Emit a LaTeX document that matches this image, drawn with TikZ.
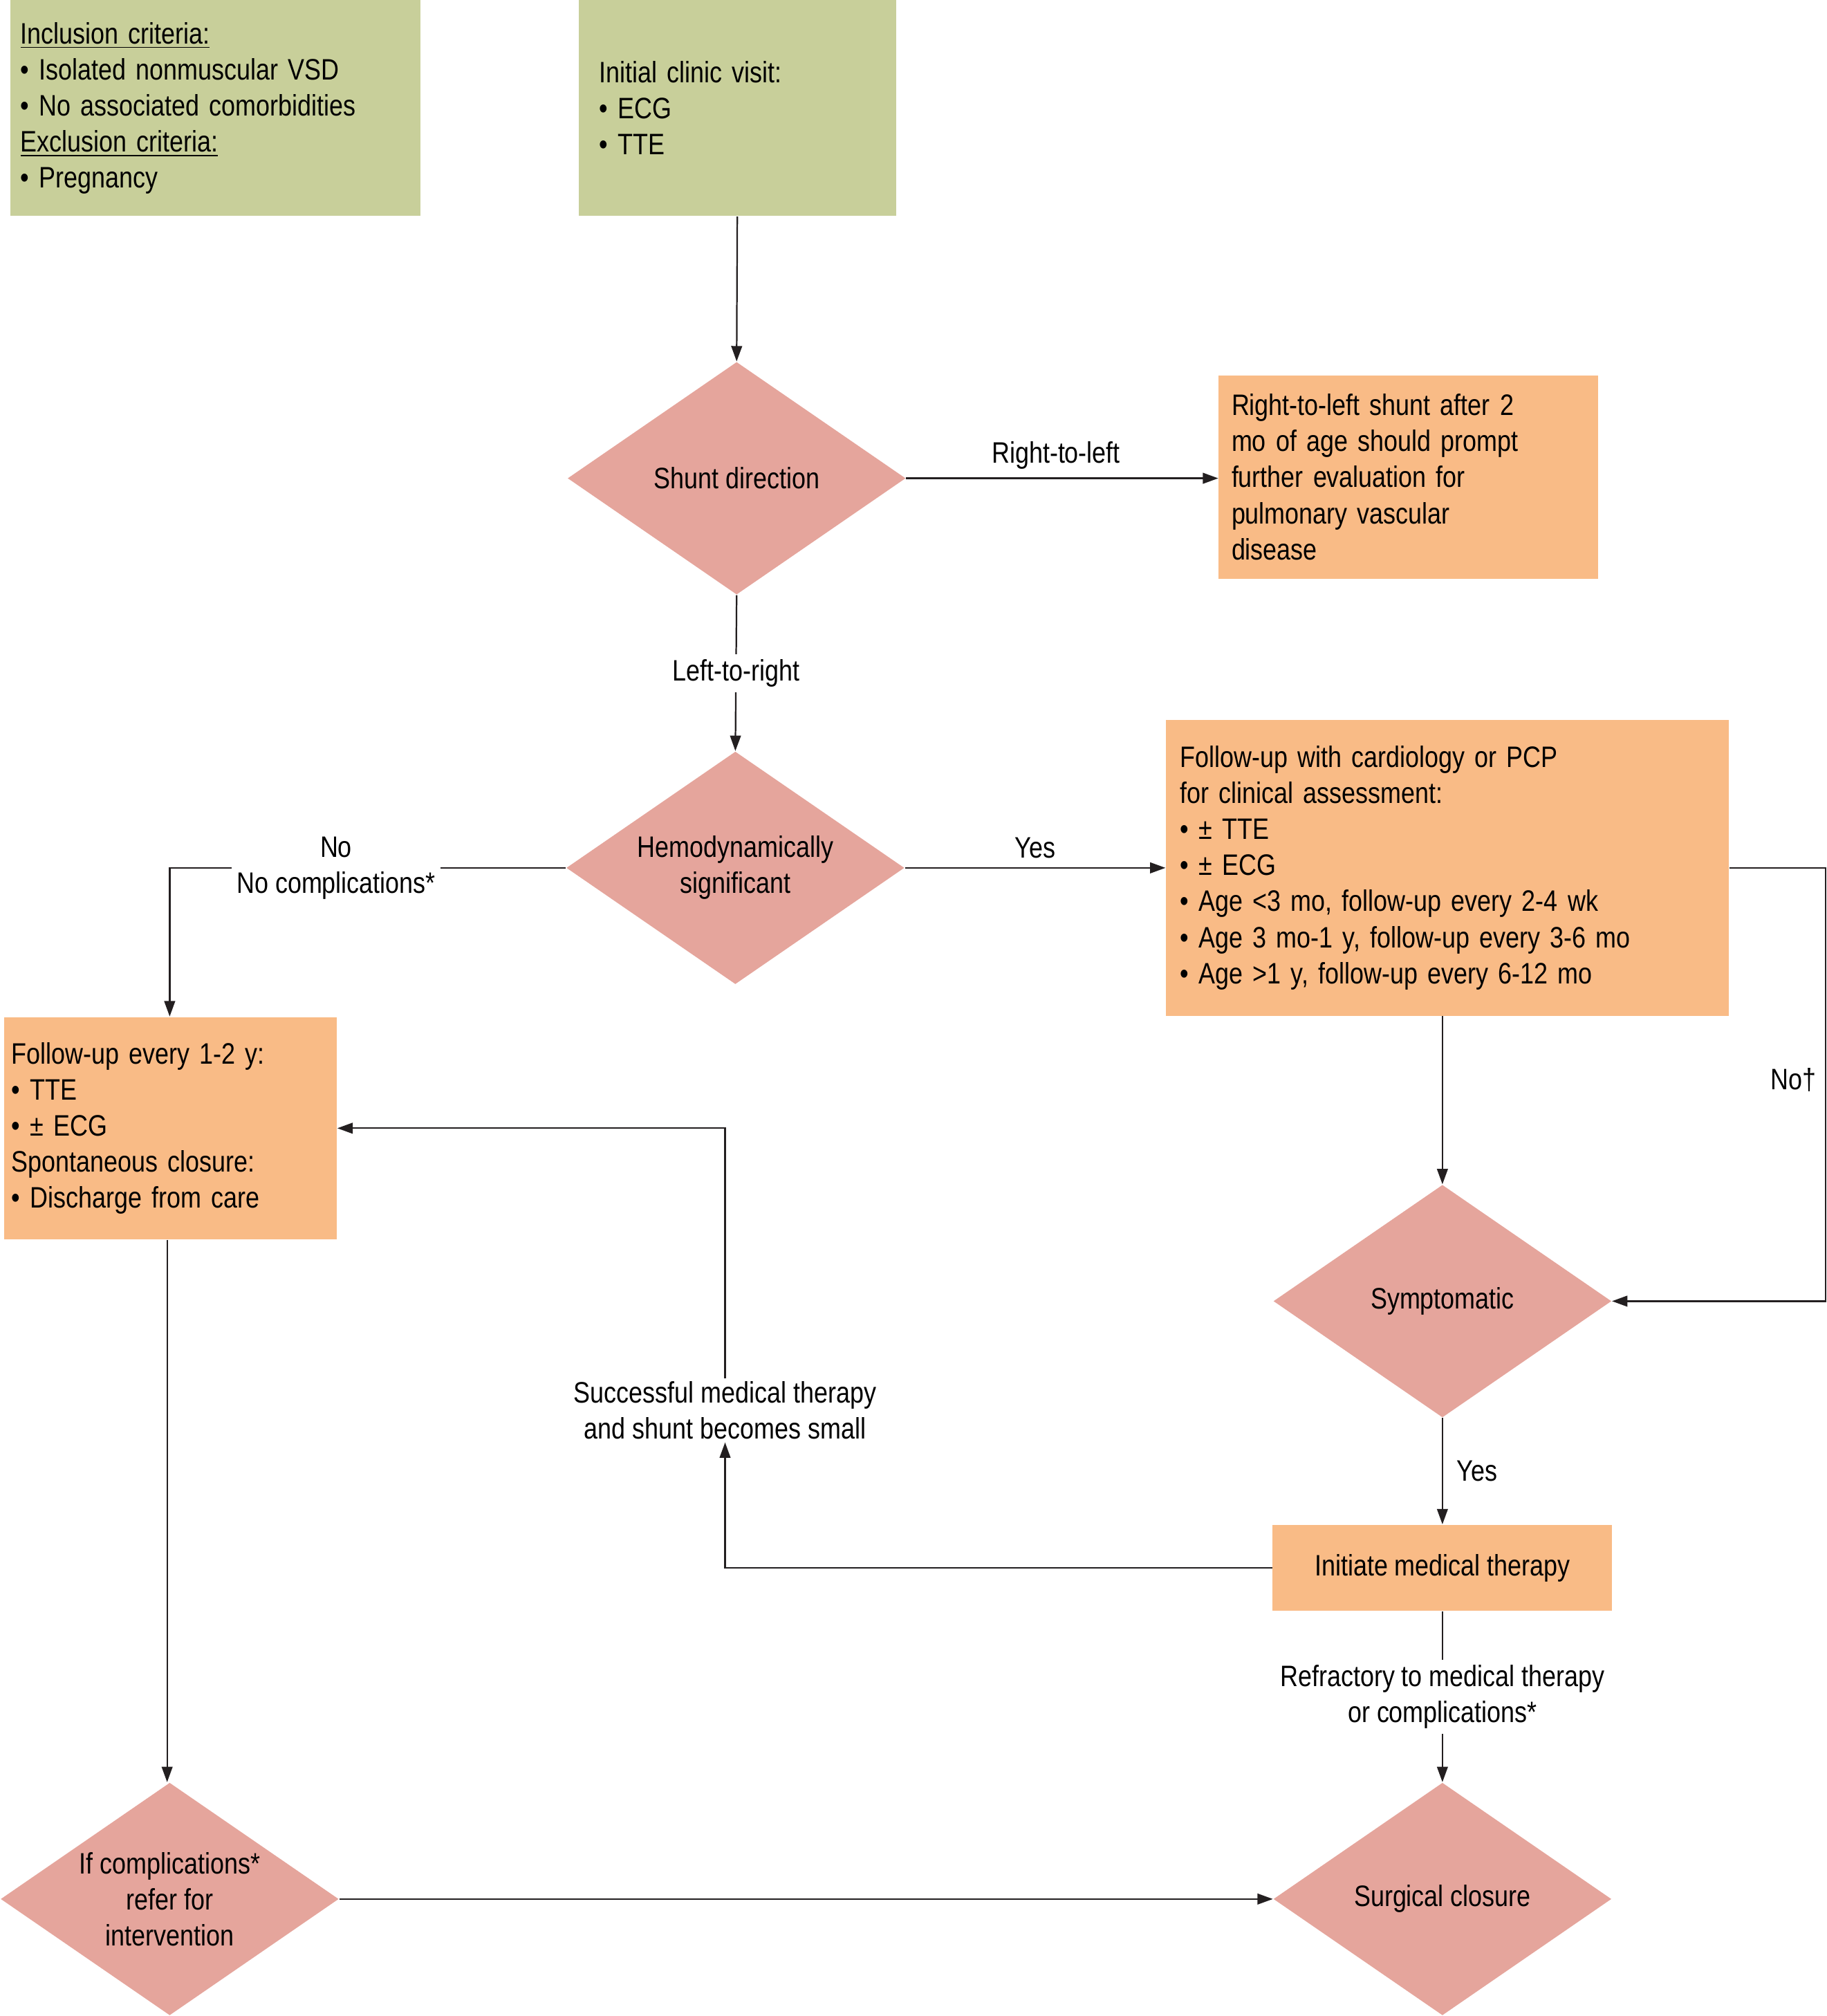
\documentclass[tikz,border=0pt]{standalone}
\usepackage{fontspec}
\setmainfont{Liberation Sans}[FakeStretch=0.84]
\usetikzlibrary{shapes.geometric,arrows.meta}
\definecolor{cgreen}{HTML}{C8CF9A}
\definecolor{corange}{HTML}{F9BB86}
\definecolor{cpink}{HTML}{E5A59C}
\definecolor{cline}{HTML}{231F20}
\begin{document}
\begin{tikzpicture}[x=0.5pt,y=-0.5pt,
  font=\fontsize{11.5}{14}\selectfont,
  box/.style={draw=none,inner ysep=0pt,align=left},
  dia/.style={diamond,fill=cpink,draw=none,inner sep=0pt,minimum width=131.5pt,minimum height=90.5pt},
  arr/.style={draw=cline,line width=0.6pt,-{Triangle[length=6pt,width=4.2pt]}},
  ln/.style={draw=cline,line width=0.6pt},
  lab/.style={fill=white,align=center,inner sep=2pt}]
\useasboundingbox (0,0) rectangle (1421,1568);
\node[box,fill=cgreen,minimum width=159.5pt,minimum height=84pt,inner xsep=4pt,text width=151.5pt] (b1) at (167.5,84)
 {\underline{Inclusion criteria:}\\ • Isolated nonmuscular VSD\\ • No associated comorbidities\\ \underline{Exclusion criteria:}\\ • Pregnancy};
\node[box,fill=cgreen,minimum width=123.5pt,minimum height=84pt,inner xsep=8pt,text width=107.5pt] (b2) at (573.5,84)
 {Initial clinic visit:\\ • ECG\\ • TTE};
\node[dia,label={[align=center]center:Shunt direction}] (d1) at (573,372) {};
\node[box,fill=corange,minimum width=147.5pt,minimum height=79pt,inner xsep=5pt,text width=137.5pt] (b3) at (1095.5,371)
 {Right-to-left shunt after 2\\ mo of age should prompt\\ further evaluation for\\ pulmonary vascular\\ disease};
\node[dia,label={[align=center]center:Hemodynamically\\significant}] (d2) at (572,675) {};
\node[box,fill=corange,minimum width=219pt,minimum height=115pt,inner xsep=5.5pt,text width=208pt] (b4) at (1126,675)
 {Follow-up with cardiology or PCP\\ for clinical assessment:\\ • ± TTE\\ • ± ECG\\ • Age <3 mo, follow-up every 2-4 wk\\ • Age 3 mo-1 y, follow-up every 3-6 mo\\ • Age >1 y, follow-up every 6-12 mo};
\node[box,fill=corange,minimum width=129.5pt,minimum height=86.5pt,inner xsep=3pt,text width=123.5pt] (b5) at (132.5,877.5)
 {Follow-up every 1-2 y:\\ • TTE\\ • ± ECG\\ Spontaneous closure:\\ • Discharge from care};
\node[dia,label={[align=center]center:Symptomatic}] (d3) at (1122,1012) {};
\node[box,fill=corange,minimum width=132pt,minimum height=33.5pt,align=center] (b6) at (1122,1219.5) {Initiate medical therapy};
\node[dia,label={[align=center]center:If complications*\\refer for\\intervention}] (d4) at (132,1477) {};
\node[dia,label={[align=center]center:Surgical closure}] (d5) at (1122,1477) {};
\node[align=center,inner sep=1pt] (succ) at (564,1097) {Successful medical therapy\\and shunt becomes small};
\coordinate (nr) at (1420,675);

\draw[arr] (b2.south) -- (d1.north);
\draw[arr] (d1.east) -- node[above,pos=0.48]{Right-to-left} (b3.west |- d1.east);
\draw[arr] (d1.south) -- node[lab]{Left-to-right} (d2.north);
\draw[arr] (d2.east) -- node[above]{Yes} (b4.west |- d2.east);
\draw[arr] (d2.west) -- node[lab,pos=0.58]{No\\No complications*} (132,675) -- (b5.north -| 132,0);
\draw[arr] (b4.south -| d3.north) -- (d3.north);
\draw[arr] (b4.east) -- (nr) -- node[left,pos=0.49]{No†} (nr |- d3.east) -- (d3.east);
\draw[arr] (d3.south) -- node[right,xshift=2pt]{Yes} (b6.north);
\draw[arr] (b6.west) -| (succ.south);
\draw[arr] (succ.north) |- (b5.east);
\draw[arr] (b6.south) -- node[lab]{Refractory to medical therapy\\or complications*} (d5.north);
\draw[arr] (b5.south -| 130,0) -- (d4.north -| 130,0);
\draw[arr] (d4.east) -- (d5.west);
\end{tikzpicture}
\end{document}
